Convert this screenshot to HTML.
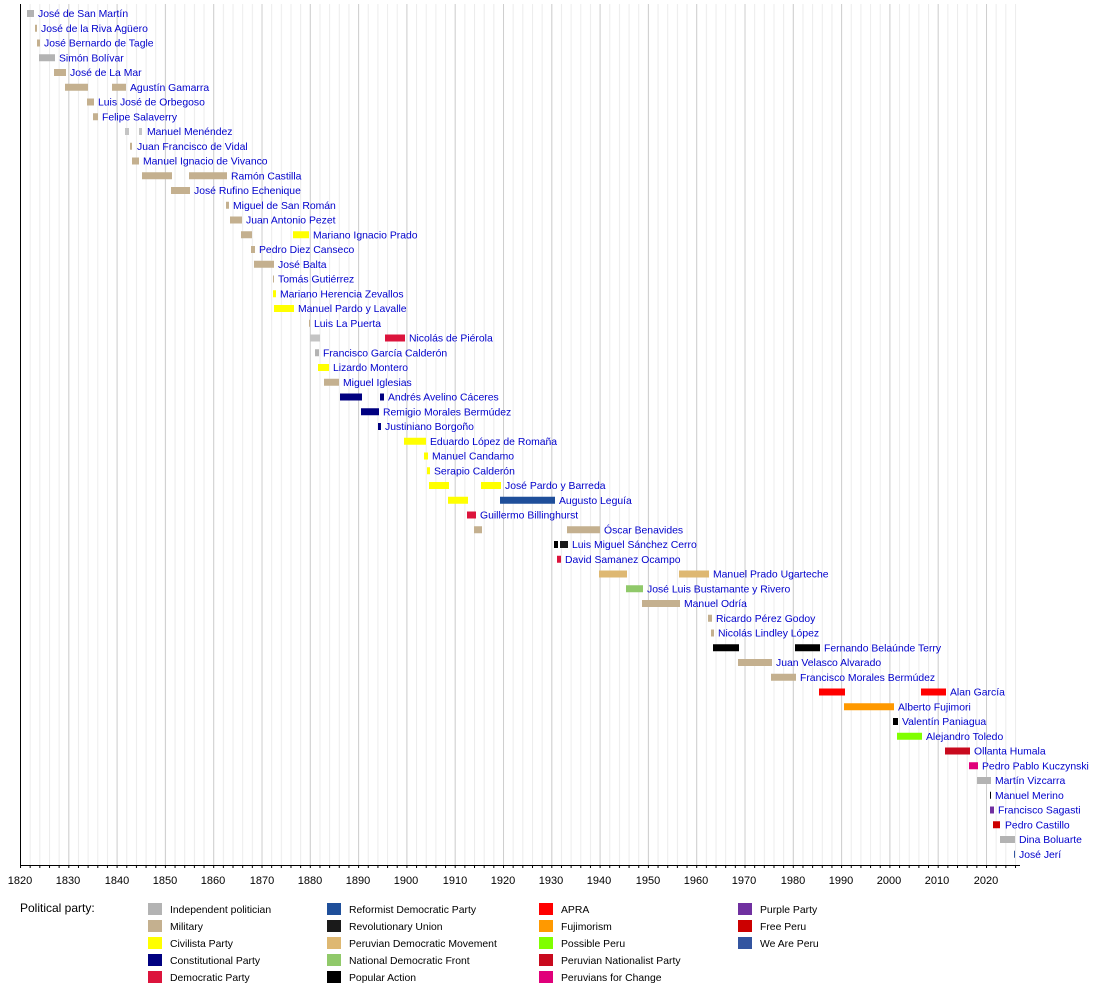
<!DOCTYPE html>
<html><head><meta charset="utf-8"><style>
body{margin:0;background:#fff}
svg{display:block;font-family:"Liberation Sans",sans-serif}
.l{fill:#0000cc;font-size:10.4px}
.g{font-size:10.4px;fill:#000}
.t{font-size:11px;fill:#000}
</style></head><body>
<svg width="1100" height="985" xmlns="http://www.w3.org/2000/svg">
<defs>
<pattern id="mn" x="20" y="0" width="9.66" height="10" patternUnits="userSpaceOnUse"><line x1="0.5" y1="0" x2="0.5" y2="10" stroke="#ececec" stroke-width="1"/></pattern>
<pattern id="mj" x="20" y="0" width="48.3" height="10" patternUnits="userSpaceOnUse"><line x1="0.5" y1="0" x2="0.5" y2="10" stroke="#cfcfcf" stroke-width="1"/></pattern>
<pattern id="tk" x="20" y="0" width="9.66" height="6" patternUnits="userSpaceOnUse"><line x1="0.5" y1="0" x2="0.5" y2="4" stroke="#000" stroke-width="1"/></pattern>
</defs>
<rect x="20" y="4" width="1000" height="861" fill="url(#mn)"/>
<rect x="20" y="4" width="1000" height="861" fill="url(#mj)"/>
<line x1="20.5" y1="4" x2="20.5" y2="866" stroke="#000"/>
<line x1="20" y1="865.5" x2="1020" y2="865.5" stroke="#000"/>
<rect x="20" y="866" width="1000" height="4" fill="url(#tk)"/>
<g class="t" text-anchor="middle">
<text x="20" y="884">1820</text><text x="68" y="884">1830</text><text x="117" y="884">1840</text><text x="165" y="884">1850</text><text x="213" y="884">1860</text><text x="262" y="884">1870</text><text x="310" y="884">1880</text><text x="358" y="884">1890</text><text x="406" y="884">1900</text><text x="455" y="884">1910</text><text x="503" y="884">1920</text><text x="551" y="884">1930</text><text x="599" y="884">1940</text><text x="648" y="884">1950</text><text x="696" y="884">1960</text><text x="744" y="884">1970</text><text x="793" y="884">1980</text><text x="841" y="884">1990</text><text x="889" y="884">2000</text><text x="937" y="884">2010</text><text x="986" y="884">2020</text>
</g>
<g>
<g transform="translate(0,13)"><rect x="27" y="-3" width="7" height="7" fill="#b3b3b3"/><text class="l" x="38" y="4">José de San Martín</text></g>
<g transform="translate(0,27.75)"><rect x="35" y="-3" width="2" height="7" fill="#c4b08f"/><text class="l" x="41" y="4">José de la Riva Agüero</text></g>
<g transform="translate(0,42.5)"><rect x="37" y="-3" width="3" height="7" fill="#c4b08f"/><text class="l" x="44" y="4">José Bernardo de Tagle</text></g>
<g transform="translate(0,57.25)"><rect x="39" y="-3" width="16" height="7" fill="#b3b3b3"/><text class="l" x="59" y="4">Simón Bolívar</text></g>
<g transform="translate(0,72)"><rect x="54" y="-3" width="12" height="7" fill="#c4b08f"/><text class="l" x="70" y="4">José de La Mar</text></g>
<g transform="translate(0,86.75)"><rect x="65" y="-3" width="23" height="7" fill="#c4b08f"/><rect x="112" y="-3" width="14" height="7" fill="#c4b08f"/><text class="l" x="130" y="4">Agustín Gamarra</text></g>
<g transform="translate(0,101.5)"><rect x="87" y="-3" width="7" height="7" fill="#c4b08f"/><text class="l" x="98" y="4">Luis José de Orbegoso</text></g>
<g transform="translate(0,116.25)"><rect x="93" y="-3" width="5" height="7" fill="#c4b08f"/><text class="l" x="102" y="4">Felipe Salaverry</text></g>
<g transform="translate(0,131)"><rect x="125" y="-3" width="4" height="7" fill="#c4c4c4"/><rect x="139" y="-3" width="3" height="7" fill="#c4c4c4"/><text class="l" x="147" y="4">Manuel Menéndez</text></g>
<g transform="translate(0,145.75)"><rect x="130" y="-3" width="2" height="7" fill="#c4b08f"/><text class="l" x="137" y="4">Juan Francisco de Vidal</text></g>
<g transform="translate(0,160.5)"><rect x="132" y="-3" width="7" height="7" fill="#c4b08f"/><text class="l" x="143" y="4">Manuel Ignacio de Vivanco</text></g>
<g transform="translate(0,175.25)"><rect x="142" y="-3" width="30" height="7" fill="#c4b08f"/><rect x="189" y="-3" width="38" height="7" fill="#c4b08f"/><text class="l" x="231" y="4">Ramón Castilla</text></g>
<g transform="translate(0,190)"><rect x="171" y="-3" width="19" height="7" fill="#c4b08f"/><text class="l" x="194" y="4">José Rufino Echenique</text></g>
<g transform="translate(0,204.75)"><rect x="226" y="-3" width="3" height="7" fill="#c4b08f"/><text class="l" x="233" y="4">Miguel de San Román</text></g>
<g transform="translate(0,219.5)"><rect x="230" y="-3" width="12" height="7" fill="#c4b08f"/><text class="l" x="246" y="4">Juan Antonio Pezet</text></g>
<g transform="translate(0,234.25)"><rect x="241" y="-3" width="11" height="7" fill="#c4b08f"/><rect x="293" y="-3" width="16" height="7" fill="#ffff00"/><text class="l" x="313" y="4">Mariano Ignacio Prado</text></g>
<g transform="translate(0,249)"><rect x="251" y="-3" width="4" height="7" fill="#c4b08f"/><text class="l" x="259" y="4">Pedro Diez Canseco</text></g>
<g transform="translate(0,263.75)"><rect x="254" y="-3" width="20" height="7" fill="#c4b08f"/><text class="l" x="278" y="4">José Balta</text></g>
<g transform="translate(0,278.5)"><rect x="273" y="-3" width="1" height="7" fill="#c4b08f"/><text class="l" x="278" y="4">Tomás Gutiérrez</text></g>
<g transform="translate(0,293.25)"><rect x="273" y="-3" width="3" height="7" fill="#ffff00"/><text class="l" x="280" y="4">Mariano Herencia Zevallos</text></g>
<g transform="translate(0,308)"><rect x="274" y="-3" width="20" height="7" fill="#ffff00"/><text class="l" x="298" y="4">Manuel Pardo y Lavalle</text></g>
<g transform="translate(0,322.75)"><rect x="309" y="-3" width="1" height="7" fill="#c4b08f"/><text class="l" x="314" y="4">Luis La Puerta</text></g>
<g transform="translate(0,337.5)"><rect x="310" y="-3" width="10" height="7" fill="#c4c4c4"/><rect x="385" y="-3" width="20" height="7" fill="#dc143c"/><text class="l" x="409" y="4">Nicolás de Piérola</text></g>
<g transform="translate(0,352.25)"><rect x="315" y="-3" width="4" height="7" fill="#b3b3b3"/><text class="l" x="323" y="4">Francisco García Calderón</text></g>
<g transform="translate(0,367)"><rect x="318" y="-3" width="11" height="7" fill="#ffff00"/><text class="l" x="333" y="4">Lizardo Montero</text></g>
<g transform="translate(0,381.75)"><rect x="324" y="-3" width="15" height="7" fill="#c4b08f"/><text class="l" x="343" y="4">Miguel Iglesias</text></g>
<g transform="translate(0,396.5)"><rect x="340" y="-3" width="22" height="7" fill="#000080"/><rect x="380" y="-3" width="4" height="7" fill="#000080"/><text class="l" x="388" y="4">Andrés Avelino Cáceres</text></g>
<g transform="translate(0,411.25)"><rect x="361" y="-3" width="18" height="7" fill="#000080"/><text class="l" x="383" y="4">Remigio Morales Bermúdez</text></g>
<g transform="translate(0,426)"><rect x="378" y="-3" width="3" height="7" fill="#000080"/><text class="l" x="385" y="4">Justiniano Borgoño</text></g>
<g transform="translate(0,440.75)"><rect x="404" y="-3" width="22" height="7" fill="#ffff00"/><text class="l" x="430" y="4">Eduardo López de Romaña</text></g>
<g transform="translate(0,455.5)"><rect x="424" y="-3" width="4" height="7" fill="#ffff00"/><text class="l" x="432" y="4">Manuel Candamo</text></g>
<g transform="translate(0,470.25)"><rect x="427" y="-3" width="3" height="7" fill="#ffff00"/><text class="l" x="434" y="4">Serapio Calderón</text></g>
<g transform="translate(0,485)"><rect x="429" y="-3" width="20" height="7" fill="#ffff00"/><rect x="481" y="-3" width="20" height="7" fill="#ffff00"/><text class="l" x="505" y="4">José Pardo y Barreda</text></g>
<g transform="translate(0,499.75)"><rect x="448" y="-3" width="20" height="7" fill="#ffff00"/><rect x="500" y="-3" width="55" height="7" fill="#1f4f9a"/><text class="l" x="559" y="4">Augusto Leguía</text></g>
<g transform="translate(0,514.5)"><rect x="467" y="-3" width="9" height="7" fill="#dc143c"/><text class="l" x="480" y="4">Guillermo Billinghurst</text></g>
<g transform="translate(0,529.25)"><rect x="474" y="-3" width="8" height="7" fill="#c4b08f"/><rect x="567" y="-3" width="33" height="7" fill="#c4b08f"/><text class="l" x="604" y="4">Óscar Benavides</text></g>
<g transform="translate(0,544)"><rect x="554" y="-3" width="4" height="7" fill="#000"/><rect x="560" y="-3" width="8" height="7" fill="#1a1a1a"/><text class="l" x="572" y="4">Luis Miguel Sánchez Cerro</text></g>
<g transform="translate(0,558.75)"><rect x="557" y="-3" width="4" height="7" fill="#dc143c"/><text class="l" x="565" y="4">David Samanez Ocampo</text></g>
<g transform="translate(0,573.5)"><rect x="599" y="-3" width="28" height="7" fill="#deb872"/><rect x="679" y="-3" width="30" height="7" fill="#deb872"/><text class="l" x="713" y="4">Manuel Prado Ugarteche</text></g>
<g transform="translate(0,588.25)"><rect x="626" y="-3" width="17" height="7" fill="#90c96a"/><text class="l" x="647" y="4">José Luis Bustamante y Rivero</text></g>
<g transform="translate(0,603)"><rect x="642" y="-3" width="38" height="7" fill="#c4b08f"/><text class="l" x="684" y="4">Manuel Odría</text></g>
<g transform="translate(0,617.75)"><rect x="708" y="-3" width="4" height="7" fill="#c4b08f"/><text class="l" x="716" y="4">Ricardo Pérez Godoy</text></g>
<g transform="translate(0,632.5)"><rect x="711" y="-3" width="3" height="7" fill="#c4b08f"/><text class="l" x="718" y="4">Nicolás Lindley López</text></g>
<g transform="translate(0,647.25)"><rect x="713" y="-3" width="26" height="7" fill="#000"/><rect x="795" y="-3" width="25" height="7" fill="#000"/><text class="l" x="824" y="4">Fernando Belaúnde Terry</text></g>
<g transform="translate(0,662)"><rect x="738" y="-3" width="34" height="7" fill="#c4b08f"/><text class="l" x="776" y="4">Juan Velasco Alvarado</text></g>
<g transform="translate(0,676.75)"><rect x="771" y="-3" width="25" height="7" fill="#c4b08f"/><text class="l" x="800" y="4">Francisco Morales Bermúdez</text></g>
<g transform="translate(0,691.5)"><rect x="819" y="-3" width="26" height="7" fill="#ff0000"/><rect x="921" y="-3" width="25" height="7" fill="#ff0000"/><text class="l" x="950" y="4">Alan García</text></g>
<g transform="translate(0,706.25)"><rect x="844" y="-3" width="50" height="7" fill="#ff9900"/><text class="l" x="898" y="4">Alberto Fujimori</text></g>
<g transform="translate(0,721)"><rect x="893" y="-3" width="5" height="7" fill="#000"/><text class="l" x="902" y="4">Valentín Paniagua</text></g>
<g transform="translate(0,735.75)"><rect x="897" y="-3" width="25" height="7" fill="#80ff00"/><text class="l" x="926" y="4">Alejandro Toledo</text></g>
<g transform="translate(0,750.5)"><rect x="945" y="-3" width="25" height="7" fill="#c80a1e"/><text class="l" x="974" y="4">Ollanta Humala</text></g>
<g transform="translate(0,765.25)"><rect x="969" y="-3" width="9" height="7" fill="#e0007a"/><text class="l" x="982" y="4">Pedro Pablo Kuczynski</text></g>
<g transform="translate(0,780)"><rect x="977" y="-3" width="14" height="7" fill="#b3b3b3"/><text class="l" x="995" y="4">Martín Vizcarra</text></g>
<g transform="translate(0,794.75)"><rect x="990" y="-3" width="1" height="7" fill="#000"/><text class="l" x="995" y="4">Manuel Merino</text></g>
<g transform="translate(0,809.5)"><rect x="990" y="-3" width="4" height="7" fill="#7030a0"/><text class="l" x="998" y="4">Francisco Sagasti</text></g>
<g transform="translate(0,824.25)"><rect x="993" y="-3" width="7" height="7" fill="#cc0000"/><text class="l" x="1005" y="4">Pedro Castillo</text></g>
<g transform="translate(0,839)"><rect x="1000" y="-3" width="15" height="7" fill="#b3b3b3"/><text class="l" x="1019" y="4">Dina Boluarte</text></g>
<g transform="translate(0,853.75)"><rect x="1014" y="-3" width="1" height="7" fill="#3355a0"/><text class="l" x="1019" y="4">José Jerí</text></g>
</g>
<g class="g">
<text x="20" y="912" style="font-size:12px">Political party:</text>
<g transform="translate(148,909)"><rect x="0" y="-6" width="14" height="12" fill="#b3b3b3"/><text x="22" y="4">Independent politician</text></g>
<g transform="translate(148,926)"><rect x="0" y="-6" width="14" height="12" fill="#c4b08f"/><text x="22" y="4">Military</text></g>
<g transform="translate(148,943)"><rect x="0" y="-6" width="14" height="12" fill="#ffff00"/><text x="22" y="4">Civilista Party</text></g>
<g transform="translate(148,960)"><rect x="0" y="-6" width="14" height="12" fill="#000080"/><text x="22" y="4">Constitutional Party</text></g>
<g transform="translate(148,977)"><rect x="0" y="-6" width="14" height="12" fill="#dc143c"/><text x="22" y="4">Democratic Party</text></g>
<g transform="translate(327,909)"><rect x="0" y="-6" width="14" height="12" fill="#1f4f9a"/><text x="22" y="4">Reformist Democratic Party</text></g>
<g transform="translate(327,926)"><rect x="0" y="-6" width="14" height="12" fill="#1a1a1a"/><text x="22" y="4">Revolutionary Union</text></g>
<g transform="translate(327,943)"><rect x="0" y="-6" width="14" height="12" fill="#deb872"/><text x="22" y="4">Peruvian Democratic Movement</text></g>
<g transform="translate(327,960)"><rect x="0" y="-6" width="14" height="12" fill="#90c96a"/><text x="22" y="4">National Democratic Front</text></g>
<g transform="translate(327,977)"><rect x="0" y="-6" width="14" height="12" fill="#000"/><text x="22" y="4">Popular Action</text></g>
<g transform="translate(539,909)"><rect x="0" y="-6" width="14" height="12" fill="#ff0000"/><text x="22" y="4">APRA</text></g>
<g transform="translate(539,926)"><rect x="0" y="-6" width="14" height="12" fill="#ff9900"/><text x="22" y="4">Fujimorism</text></g>
<g transform="translate(539,943)"><rect x="0" y="-6" width="14" height="12" fill="#80ff00"/><text x="22" y="4">Possible Peru</text></g>
<g transform="translate(539,960)"><rect x="0" y="-6" width="14" height="12" fill="#c80a1e"/><text x="22" y="4">Peruvian Nationalist Party</text></g>
<g transform="translate(539,977)"><rect x="0" y="-6" width="14" height="12" fill="#e0007a"/><text x="22" y="4">Peruvians for Change</text></g>
<g transform="translate(738,909)"><rect x="0" y="-6" width="14" height="12" fill="#7030a0"/><text x="22" y="4">Purple Party</text></g>
<g transform="translate(738,926)"><rect x="0" y="-6" width="14" height="12" fill="#cc0000"/><text x="22" y="4">Free Peru</text></g>
<g transform="translate(738,943)"><rect x="0" y="-6" width="14" height="12" fill="#3355a0"/><text x="22" y="4">We Are Peru</text></g>
</g>
</svg>
</body></html>
